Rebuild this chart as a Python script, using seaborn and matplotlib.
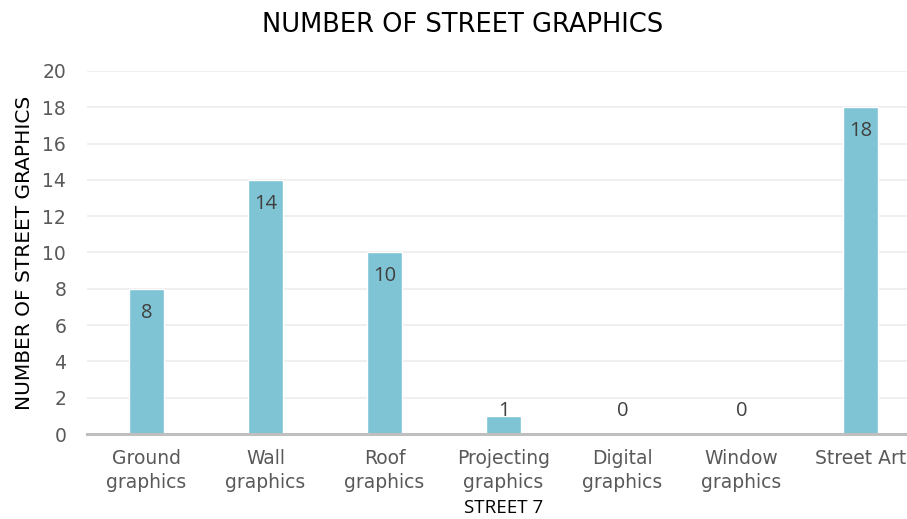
import matplotlib
matplotlib.use("Agg")
import matplotlib.pyplot as plt
import seaborn as sns
import pandas as pd

categories = ["Ground\ngraphics", "Wall\ngraphics", "Roof\ngraphics",
              "Projecting\ngraphics", "Digital\ngraphics", "Window\ngraphics",
              "Street Art"]
counts = [8, 14, 10, 1, 0, 0, 18]
y_ticks = [0, 2, 4, 6, 8, 10, 12, 14, 16, 18, 20]

df = pd.DataFrame({"category": categories, "count": counts})

sns.set_style("white")
plt.rcParams["font.family"] = ["DejaVu Sans"]

W, H = 907, 519
fig = plt.figure(figsize=(W / 100, H / 100), dpi=100)
ax = fig.add_axes([87 / W, 1 - 434 / H, (920 - 87) / W, (434 - 71) / H])

sns.barplot(data=df, x="category", y="count", color="#7fc4d4",
            width=0.30, saturation=1, ax=ax, zorder=3)

ax.set_ylim(0, 20)
ax.set_xlim(-0.5, len(categories) - 0.5)
ax.set_yticks(y_ticks)
ax.set_yticklabels([str(t) for t in y_ticks])
ax.yaxis.grid(True, color="#ececec", linewidth=1.2, zorder=0)
ax.set_axisbelow(True)
for s in ["top", "right", "left"]:
    ax.spines[s].set_visible(False)
ax.spines["bottom"].set_color("#bfbfbf")
ax.spines["bottom"].set_linewidth(2.2)
ax.spines["bottom"].set_zorder(4)
ax.tick_params(axis="both", length=0, colors="#595959", labelsize=13.5)
ax.tick_params(axis="x", pad=11)
ax.tick_params(axis="y", pad=15)
for lab in ax.get_xticklabels():
    lab.set_linespacing(1.34)

ax.set_ylabel("NUMBER OF STREET GRAPHICS", fontsize=14.5, color="black",
              labelpad=6)
ax.set_xlabel("STREET 7", fontsize=13.5, color="black", labelpad=5,
              family=["Open Sans", "DejaVu Sans"])

px_per_unit = (434 - 71) / 20
for i, v in enumerate(counts):
    bar_px = v * px_per_unit
    if bar_px >= 47:
        off = -24 * 0.72
        yv = v
    else:
        off = 23 * 0.72
        yv = 0
    ax.annotate(str(v), (i, yv), xytext=(0, off), textcoords="offset points",
                ha="center", va="center", fontsize=14.5, color="#404040",
                family=["Open Sans", "DejaVu Sans"], zorder=5)

fig.text(463 / W, 1 - 25 / H, "NUMBER OF STREET GRAPHICS", ha="center",
         va="center", fontsize=18.5, color="black")

fig.savefig("out.png", dpi=100)
